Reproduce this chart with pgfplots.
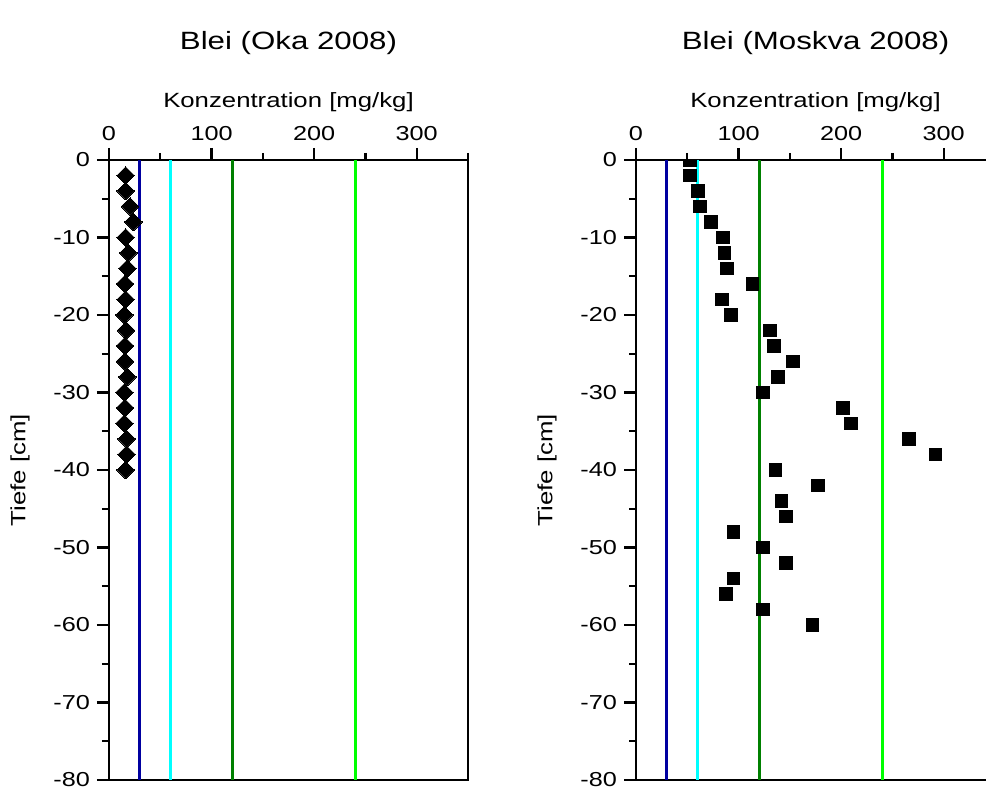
\documentclass[border=0pt]{standalone}
\usepackage{pgfplots}
\pgfplotsset{compat=1.18}
\usepackage{pgfplotstable}
\usepackage{fontspec}
\setmainfont{Liberation Sans}[FakeStretch=1.25]
\definecolor{navyl}{RGB}{0,0,160}
\definecolor{cyanl}{RGB}{0,255,255}
\definecolor{dgreenl}{RGB}{0,128,0}
\definecolor{lgreenl}{RGB}{0,255,0}

\pgfplotstableread{
x y
16.3 -2
16.3 -4
20.5 -6
23.7 -8
16.3 -10
18.9 -12
17.9 -14
15.6 -16
16.3 -18
15.0 -20
16.6 -22
15.6 -24
15.6 -26
17.9 -28
15.0 -30
15.6 -32
15.0 -34
17.2 -36
17.2 -38
16.3 -40
}\okadata

\pgfplotstableread{
x y
53 0
52.4 -2
60.5 -4
62.4 -6
72.8 -8
85.2 -10
86.2 -12
88.5 -14
113.5 -16
83.9 -18
92.4 -20
130.7 -22
134.6 -24
152.8 -26
138.2 -28
123.9 -30
202 -32
209.4 -34
266.3 -36
292 -38
136 -40
177.6 -42
141.8 -44
146.3 -46
95 -48
123.9 -50
146.3 -52
95 -54
87.8 -56
123.9 -58
172 -60
}\moskvadata

\pgfplotsset{myax/.style={
  scale only axis, width=179.5pt, height=310pt,
  xmin=0, xmax=350, ymin=-80, ymax=0,
  xtick={0,100,200,300}, minor xtick={50,150,250,350},
  ytick={-80,-70,...,0}, minor ytick={-75,-65,...,-5},
  tick align=outside, major tick length=6pt, minor tick length=3.5pt,
  xtick pos=right, xticklabel pos=right, ytick pos=left,
  axis line style={line width=1.2pt},
  every tick/.style={black, line width=1.2pt},
  tick label style={font=\fontsize{10.1}{12}\selectfont},
  /pgf/number format/assume math mode=true,
  xlabel={Konzentration [mg/kg]}, ylabel={Tiefe [cm]},
  xlabel style={at={(axis description cs:0.5,1.0935)}, anchor=center, font=\fontsize{10.3}{12}\selectfont},
  ylabel style={at={(axis description cs:-0.248,0.5)}, anchor=center, font=\fontsize{10.3}{12}\selectfont},
  title style={at={(axis description cs:0.5,1.17)}, anchor=center, yshift=0pt, font=\fontsize{12.5}{15}\selectfont},
  clip marker paths=true,
}}

\begin{document}
\begin{tikzpicture}
\begin{axis}[myax, at={(54.5pt,5pt)}, anchor=south west, title={Blei (Oka 2008)}]
\addplot[color=navyl, line width=1.5pt] coordinates {(30,0) (30,-80)};
\addplot[color=cyanl, line width=1.5pt] coordinates {(60,0) (60,-80)};
\addplot[color=dgreenl, line width=1.5pt] coordinates {(120,0) (120,-80)};
\addplot[color=lgreenl, line width=1.5pt] coordinates {(240,0) (240,-80)};
\addplot[only marks, mark=square*, mark size=3.1pt, mark options={fill=black, draw=black, line width=0pt, rotate=45}] table[x=x,y=y] {\okadata};
\end{axis}
\begin{axis}[myax, at={(318pt,5pt)}, anchor=south west, title={Blei (Moskva 2008)}]
\addplot[color=navyl, line width=1.5pt] coordinates {(30,0) (30,-80)};
\addplot[color=cyanl, line width=1.5pt] coordinates {(60,0) (60,-80)};
\addplot[color=dgreenl, line width=1.5pt] coordinates {(120,0) (120,-80)};
\addplot[color=lgreenl, line width=1.5pt] coordinates {(240,0) (240,-80)};
\addplot[only marks, mark=square*, mark size=3.2pt, mark options={fill=black, draw=black, line width=0pt}] table[x=x,y=y] {\moskvadata};
\end{axis}
\pgfresetboundingbox
\path[use as bounding box] (0,0) rectangle (493pt,395pt);
\end{tikzpicture}
\end{document}
